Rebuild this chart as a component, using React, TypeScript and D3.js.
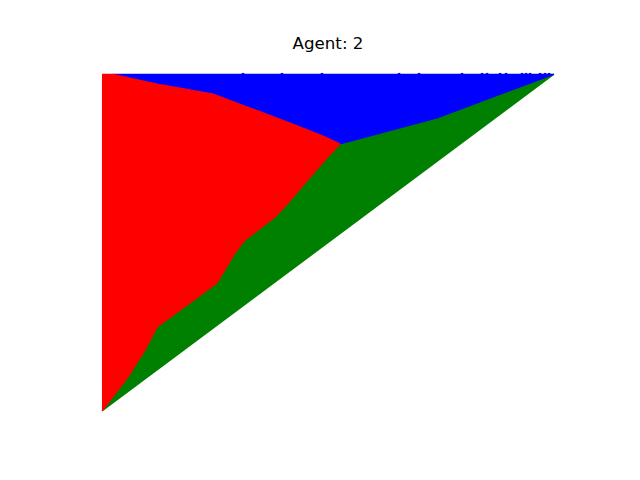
import React from "react";
import * as d3 from "d3";

type P = [number, number];

// Boundaries of the best-response regions (data coords, triangle with vertices (0,0),(0,1),(1,1))
const triplePoint: P = [0.5267, 0.7929];
const redBlueBoundary: P[] = [
  [0.0233, 1.0],
  [0.1209, 0.9714],
  [0.2451, 0.9417],
  [0.3271, 0.9],
  [0.4158, 0.8554],
  [0.489, 0.8167],
  triplePoint,
];
const blueGreenBoundary: P[] = [
  triplePoint,
  [0.7418, 0.8702],
  [1.0, 1.0],
];
const redGreenBoundary: P[] = [
  triplePoint,
  [0.4934, 0.7452],
  [0.4491, 0.6768],
  [0.4114, 0.6173],
  [0.3826, 0.5756],
  [0.3537, 0.5458],
  [0.316, 0.5071],
  [0.2938, 0.4685],
  [0.254, 0.3792],
  [0.1209, 0.2482],
  [0.0943, 0.1798],
  [0.0566, 0.0994],
  [0.0, 0.0],
];
const edgeDotsX: number[] = [
  0.3116, 0.3981, 0.4868, 0.6576, 0.7019, 0.7973, 0.8417, 0.8528, 0.8816,
  0.8949, 0.9304, 0.9393, 0.9482, 0.9704, 0.9814, 0.9903,
];
const title = "Agent: 2";

const W = 640;
const H = 480;

export default function App() {
  const x = d3.scaleLinear().domain([-0.05, 1.05]).range([80, 576]);
  const y = d3.scaleLinear().domain([-0.05, 1.05]).range([427.2, 57.6]);
  const line = d3
    .line<P>()
    .x((d) => x(d[0]))
    .y((d) => y(d[1]));

  // red: origin -> top-left corner -> red/blue boundary -> triple -> red/green boundary back to origin
  const redPath: P[] = [[0, 0], [0, 1], ...redBlueBoundary, ...redGreenBoundary.slice(1)];
  // blue: red/blue boundary -> triple -> blue/green boundary -> top-right, closed along top edge
  const bluePath: P[] = [...redBlueBoundary, ...blueGreenBoundary.slice(1)];
  // green: triple -> blue/green -> top-right -> diagonal to origin -> red/green boundary back up
  const greenPath: P[] = [...blueGreenBoundary, [0, 0], ...redGreenBoundary.slice().reverse().slice(1)];

  return (
    <svg width={W} height={H} style={{ display: "block", position: "absolute", left: 0, top: 0 }}>
      <rect width={W} height={H} fill="white" />
      <path d={line(greenPath) + "Z"} fill="green" stroke="green" strokeWidth={1.6} strokeLinejoin="round" />
      <path d={line(bluePath) + "Z"} fill="blue" stroke="blue" strokeWidth={1.2} strokeLinejoin="round" />
      <path d={line(redPath) + "Z"} fill="red" stroke="red" strokeWidth={1.2} strokeLinejoin="round" />
      {edgeDotsX.map((v, i) => (
        <circle key={i} cx={x(v)} cy={y(1)} r={1.7} fill="blue" />
      ))}
      <text
        x={x(0.5)}
        y={49}
        textAnchor="middle"
        fontFamily="DejaVu Sans"
        fontSize={16.67}
        fill="black"
      >
        {title}
      </text>
    </svg>
  );
}
